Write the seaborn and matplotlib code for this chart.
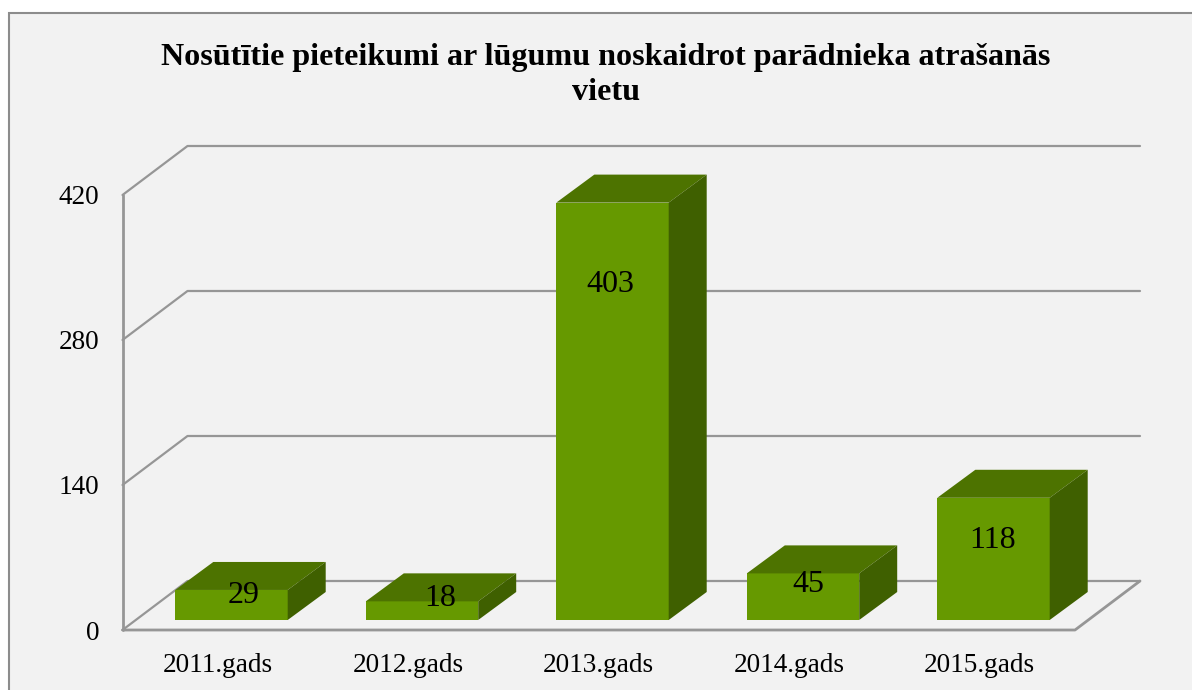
# Nosutitie pieteikumi - bar chart with a drawn-on 3D look
import matplotlib.pyplot as plt
import pandas as pd
import seaborn as sns
from matplotlib.patches import Polygon, Rectangle

years = ['2011.gads', '2012.gads', '2013.gads', '2014.gads', '2015.gads']
counts = [29, 18, 403, 45, 118]
y_ticks = [0, 140, 280, 420]
title = 'Nosūtītie pieteikumi ar lūgumu noskaidrot parādnieka atrašanās\nvietu'

FRONT = '#669900'
TOP = '#4d7300'
SIDE = '#3f6000'
LINE = '#969696'
PANEL = '#f2f2f2'
W, H = 1192, 690

sns.set_theme(style='white')
plt.rcParams['font.family'] = ['Liberation Serif', 'DejaVu Serif']

df = pd.DataFrame({'year': years, 'count': counts})

fig = plt.figure(figsize=(W / 100, H / 100), dpi=100, facecolor='white')
fig.add_artist(Rectangle((9 / W, -0.05), 1.1, 1.05 - 13 / H, transform=fig.transFigure,
                         facecolor=PANEL, edgecolor='#8c8c8c', linewidth=1.5, zorder=-1))

# axes = front plane of the box, pixel positions
left, right, top, bottom = 122.5, 1075, 195, 630
ax = fig.add_axes([left / W, 1 - bottom / H, (right - left) / W, (bottom - top) / H])
ax.patch.set_alpha(0)

sns.barplot(data=df, x='year', y='count', color=FRONT, saturation=1, width=0.59, ax=ax, zorder=3,
            linewidth=0, edgecolor=FRONT)
ax.set_xlim(-0.5, 4.5)
ax.set_ylim(0, 420)

# pixel sizes turned into data units
px_x = 5 / (right - left)
px_y = 420 / (bottom - top)
wall_dx, wall_dy = 65 * px_x, 49 * px_y
bar_dx, bar_dy = 38 * px_x, 28 * px_y
shift_x, shift_y = 13.75 * px_x, 10 * px_y

# walls and floor
for v in y_ticks:
    ax.plot([-0.5, -0.5 + wall_dx, 4.5 + wall_dx], [v, v + wall_dy, v + wall_dy],
            color=LINE, lw=1.6, clip_on=False, zorder=1)
ax.plot([-0.5, -0.5], [0, 420], color=LINE, lw=2, clip_on=False, zorder=1)
ax.plot([-0.5, 4.5, 4.5 + wall_dx], [0, 0, wall_dy], color=LINE, lw=2, clip_on=False, zorder=1)

# label nudges from the bar top, in pixels
label_dx = [12, 18, -2, 5, -1]
label_dy = [-6, 3, -82, -11, -43]

for bar, n, ldx, ldy in zip(ax.patches, counts, label_dx, label_dy):
    bar.set_x(bar.get_x() + shift_x)
    bar.set_y(shift_y)
    bar.set_clip_on(False)
    x0, x1 = bar.get_x(), bar.get_x() + bar.get_width()
    y0, y1 = shift_y, shift_y + n
    ax.add_patch(Polygon([(x0, y1), (x1, y1), (x1 + bar_dx, y1 + bar_dy), (x0 + bar_dx, y1 + bar_dy)],
                         facecolor=TOP, edgecolor='none', clip_on=False, zorder=3))
    ax.add_patch(Polygon([(x1, y0), (x1 + bar_dx, y0 + bar_dy), (x1 + bar_dx, y1 + bar_dy), (x1, y1)],
                         facecolor=SIDE, edgecolor='none', clip_on=False, zorder=3))
    ax.annotate(str(n), ((x0 + x1) / 2, y1), xytext=(ldx * 0.72, ldy * 0.72), textcoords='offset points',
                ha='center', va='center', fontsize=23, color='black', zorder=5, annotation_clip=False)

sns.despine(ax=ax, left=True, bottom=True)
ax.set_xlabel('')
ax.set_ylabel('')
ax.set_yticks(y_ticks)
ax.tick_params(axis='y', length=0, pad=16.5, labelsize=19.6, labelcolor='black')
ax.tick_params(axis='x', length=0, pad=16.5, labelsize=19.6, labelcolor='black')

fig.text(605.5 / W, 1 - 75 / H, title, ha='center', va='center', fontsize=23.1, fontweight='bold',
         color='black', linespacing=1.23)

fig.savefig('out.png', dpi=100, facecolor=fig.get_facecolor())
